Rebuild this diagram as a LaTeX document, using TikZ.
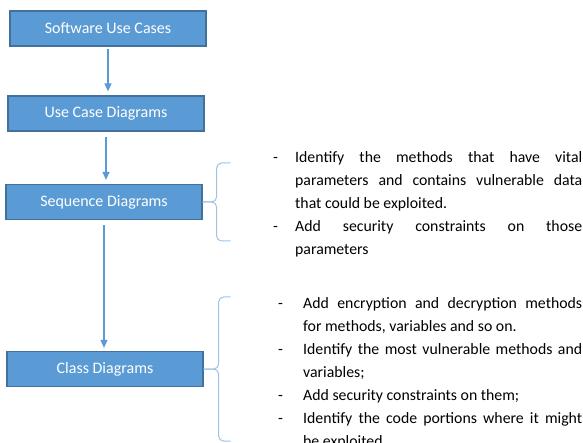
\documentclass[tikz,border=0pt]{standalone}
\usepackage{fontspec}
\setmainfont{Carlito}
\usetikzlibrary{arrows.meta}

\definecolor{boxblue}{HTML}{5B9BD5}
\definecolor{boxedge}{HTML}{41719C}
\definecolor{bracecol}{HTML}{9DC3E6}

\newenvironment{dashlist}[1]{\begin{list}{-}{%
  \setlength{\leftmargin}{#1}\setlength{\labelwidth}{#1}%
  \setlength{\labelsep}{0pt}\setlength{\itemsep}{0pt}%
  \setlength{\parsep}{0pt}\setlength{\topsep}{0pt}%
  \setlength{\partopsep}{0pt}%
  \renewcommand{\makelabel}[1]{##1\hfil}}}{\end{list}}

\begin{document}
\begin{tikzpicture}[x=1pt,y=-1pt,
diagbox/.style={rectangle, draw=boxedge, fill=boxblue, line width=1.2pt, minimum width=196pt, minimum height=35pt, inner sep=0pt, text=white, font=\fontsize{16}{19}\selectfont},
flow/.style={draw=boxblue, line width=1.3pt, -{Triangle[width=7pt,length=8pt]}},
bracket/.style={draw=bracecol, line width=1pt, rounded corners=5pt},
notes/.style={anchor=north west, inner sep=0pt, align=justify, font=\fontsize{15.8}{23}\selectfont}
]
    \useasboundingbox (0,0) rectangle (583,443);

    \node [diagbox] (uc)  at (108,28.5)  {Software Use Cases};
    \node [diagbox] (ucd) at (106,113.5) {Use Case Diagrams};
    \node [diagbox] (sd)  at (104,202)   {Sequence Diagrams};
    \node [diagbox] (cd)  at (105,369)   {Class Diagrams};

    \draw [flow, shorten <=2pt, shorten >=4pt] (uc.south) -- (uc.south |- ucd.north);
    \draw [flow, shorten <=5pt, shorten >=4pt] (ucd.south) -- (ucd.south |- sd.north);
    \draw [flow, shorten <=5pt, shorten >=3pt] (sd.south) -- (sd.south |- cd.north);

    \node [notes, text width=309pt] (sdnotes) at (273,139) {\begin{dashlist}{22pt}
      \item Identify the methods that have vital\linebreak parameters and contains vulnerable data\linebreak that could be exploited.
      \item Add security constraints on those\linebreak parameters
    \end{dashlist}};
    \node [notes, text width=304pt] (cdnotes) at (278,285) {\begin{dashlist}{25pt}
      \item Add encryption and decryption methods\linebreak for methods, variables and so on.
      \item Identify the most vulnerable methods and\linebreak variables;
      \item Add security constraints on them;
      \item Identify the code portions where it might\linebreak be exploited.
    \end{dashlist}};

    \draw [bracket] (sd.east) -- ++(14,0) -- ++(0,-39) -- ++(14,0);
    \draw [bracket] (sd.east) -- ++(14,0) -- ++(0,39) -- ++(14,0);
    \draw [bracket] (cd.east) -- ++(15,0) -- ++(0,-72) -- ++(12,0);
    \draw [bracket] (cd.east) -- ++(15,0) -- ++(0,72) -- ++(12,0);
\end{tikzpicture}
\end{document}
